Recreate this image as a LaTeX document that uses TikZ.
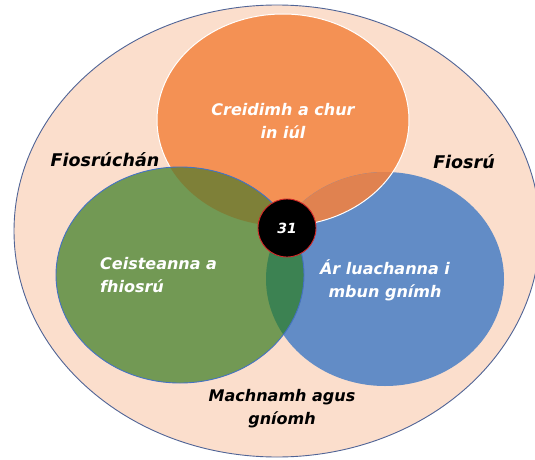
\documentclass[tikz,border=0pt]{standalone}
\usepackage{fontspec}
\setmainfont{DejaVu Sans}
\definecolor{peach}{RGB}{251,222,204}
\definecolor{outerline}{RGB}{80,100,150}
\definecolor{orangec}{RGB}{244,145,84}
\definecolor{greenc}{RGB}{114,153,84}
\definecolor{bluec}{RGB}{98,140,198}
\definecolor{olivec}{RGB}{126,128,56}
\definecolor{obc}{RGB}{224,130,80}
\definecolor{gbc}{RGB}{60,130,82}
\definecolor{greenline}{RGB}{68,114,196}
\definecolor{redline}{RGB}{210,40,40}
\tikzset{
  lbl/.style={font=\fontsize{16}{23}\selectfont\bfseries\itshape, align=center, inner sep=0pt},
  wlbl/.style={lbl, text=white},
  blbl/.style={lbl, text=black},
  slbl/.style={blbl, font=\fontsize{17.5}{23}\selectfont\bfseries\itshape},
}
\begin{document}
\begin{tikzpicture}[x=1pt,y=-1pt]
\useasboundingbox (0,0) rectangle (535,460);
\clip (0,0) rectangle (535,460);
\def\orangeshape{(283,120) ellipse [x radius=126, y radius=106]}
\def\greenshape{(180,275) ellipse [x radius=124, y radius=108]}
\def\blueshape{(385,279) ellipse [x radius=119, y radius=107]}
% outer
\fill[peach] (277,231) ellipse [x radius=263, y radius=226];
\draw[outerline, line width=0.9pt] (277,231) ellipse [x radius=263, y radius=226];
% orange and blue
\fill[orangec] \orangeshape;
\fill[bluec] \blueshape;
\begin{scope}
  \clip \blueshape;
  \fill[obc] \orangeshape;
\end{scope}
\draw[white, line width=1pt] \orangeshape;
% green
\fill[greenc] \greenshape;
\begin{scope}
  \clip \greenshape;
  \fill[olivec] \orangeshape;
  \fill[gbc] \blueshape;
\end{scope}
\draw[greenline, line width=0.9pt] \greenshape;
% centre
\node[circle, fill=black, draw=redline, line width=0.9pt, minimum size=58pt, inner sep=0pt,
      text=white, font=\fontsize{14}{16}\selectfont\bfseries\itshape] (c) at (287,228) {31};
% labels
\node[wlbl] (top) at (283,121) {Creidimh a chur\\in iúl};
\node[wlbl, align=left, anchor=west] (left) at (100,275) {Ceisteanna a\\fhiosrú};
\node[wlbl] (right) at (385,280) {Ár luachanna i\\mbun gnímh};
\node[blbl] (bottom) at (282,409) {Machnamh agus\\gníomh};
\node[slbl] (fl) at (105,160) {Fiosrúchán};
\node[slbl] (fr) at (464,162) {Fiosrú};
\end{tikzpicture}
\end{document}
